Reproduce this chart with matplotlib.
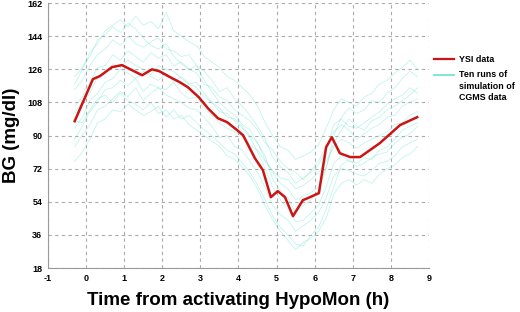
import matplotlib
matplotlib.use('Agg')
import matplotlib.pyplot as plt
from matplotlib.legend_handler import HandlerLine2D

plt.rcParams['font.family'] = ['Liberation Sans', 'DejaVu Sans']
plt.rcParams['axes.unicode_minus'] = False

# YSI reference measurements (h, mg/dl)
ysi_t = [-0.3, 0.18, 0.36, 0.68, 0.94, 1.2, 1.47, 1.73, 1.92, 2.2, 2.46, 2.67,
         2.96, 3.2, 3.46, 3.7, 3.96, 4.12, 4.43, 4.64, 4.85, 5.03, 5.22, 5.43,
         5.69, 5.82, 6.11, 6.3, 6.45, 6.66, 6.93, 7.19, 7.71, 8.24, 8.69]
ysi_bg = [97.8, 120.7, 122.3, 127.2, 128.3, 125.6, 122.8, 126, 125, 121.8, 119,
          116.3, 110.8, 104.8, 99.4, 97.3, 93, 90.2, 77.7, 71.2, 56.5, 59.8,
          56.5, 46.2, 54.9, 56, 58.7, 83.7, 89.1, 80.4, 78.3, 78.3, 85.9, 95.7, 100]

# simulated CGMS runs, sampled every 12 min
cgms_t = [-0.3, -0.1, 0.1, 0.3, 0.5, 0.7, 0.9, 1.1, 1.3, 1.5, 1.7, 1.9, 2.1,
          2.3, 2.5, 2.7, 2.9, 3.1, 3.3, 3.5, 3.7, 3.9, 4.1, 4.3, 4.5, 4.7,
          4.9, 5.1, 5.3, 5.5, 5.7, 5.9, 6.1, 6.3, 6.5, 6.7, 6.9, 7.1, 7.3,
          7.5, 7.7, 7.9, 8.1, 8.3, 8.5, 8.7]
run1 = [118, 126, 135, 140, 147, 150, 153, 149, 155, 150, 152, 148, 157, 147, 144, 141,
        139, 133, 130, 127, 122, 120, 116, 112, 106, 97, 90, 84, 82, 77, 79, 81, 85,
        94, 104, 110, 108, 106, 111, 113, 118, 120, 124, 127, 131, 126]
run2 = [115, 120, 128, 134, 137, 142, 139, 144, 140, 138, 141, 143, 137, 136, 133, 134,
        128, 125, 120, 114, 116, 110, 106, 101, 95, 88, 78, 73, 70, 64, 67, 70, 74,
        82, 96, 99, 95, 94, 97, 100, 103, 107, 110, 112, 116, 113]
run3 = [106, 111, 119, 127, 128, 134, 131, 136, 133, 130, 135, 132, 134, 128, 130, 126,
        124, 118, 116, 111, 109, 104, 101, 98, 93, 86, 82, 76, 72, 70, 66, 71, 76,
        84, 92, 96, 93, 88, 91, 94, 96, 100, 101, 106, 108, 110]
run4 = [102, 108, 113, 122, 124, 129, 127, 131, 128, 126, 123, 128, 126, 125, 121, 118,
        119, 113, 108, 105, 100, 99, 95, 90, 86, 77, 70, 64, 61, 55, 57, 59, 62,
        73, 86, 93, 99, 95, 93, 98, 100, 104, 106, 109, 112, 116]
run5 = [94, 100, 109, 113, 119, 121, 126, 124, 121, 125, 122, 120, 124, 119, 122, 118,
        116, 111, 108, 103, 102, 98, 94, 89, 81, 72, 62, 55, 50, 43, 44, 48, 52,
        62, 75, 79, 76, 75, 78, 77, 82, 84, 88, 93, 95, 97]
run6 = [88, 95, 103, 108, 115, 116, 120, 117, 121, 114, 118, 116, 115, 119, 113, 110,
        111, 105, 101, 97, 94, 92, 90, 85, 82, 76, 71, 67, 66, 61, 63, 66, 70,
        76, 84, 88, 86, 83, 86, 88, 90, 92, 96, 97, 101, 103]
run7 = [84, 90, 96, 104, 106, 110, 114, 111, 116, 109, 113, 116, 112, 110, 108, 105,
        104, 100, 95, 89, 90, 84, 82, 76, 70, 62, 52, 47, 44, 38, 41, 44, 48,
        56, 68, 72, 71, 69, 68, 71, 75, 76, 79, 84, 86, 88]
run8 = [76, 81, 88, 97, 99, 104, 103, 107, 104, 101, 103, 106, 100, 104, 99, 101,
        97, 93, 90, 86, 82, 80, 75, 70, 63, 55, 46, 40, 36, 31, 30, 36, 40,
        50, 62, 74, 77, 73, 75, 78, 80, 81, 86, 89, 91, 95]
run9 = [122, 127, 133, 142, 145, 149, 146, 151, 148, 143, 139, 137, 140, 133, 129, 126,
        128, 120, 114, 108, 104, 101, 96, 93, 86, 79, 66, 60, 56, 48, 52, 55, 60,
        72, 90, 100, 105, 102, 104, 109, 108, 113, 116, 121, 125, 122]
run10 = [98, 97, 104, 110, 112, 108, 113, 109, 107, 104, 108, 102, 104, 99, 101, 96,
         93, 90, 87, 84, 79, 77, 73, 68, 61, 52, 44, 38, 33, 28, 32, 34, 38,
         45, 58, 64, 66, 63, 66, 64, 69, 72, 74, 78, 80, 84]
runs = [run1, run2, run3, run4, run5, run6, run7, run8, run9, run10]

x_ticks = list(range(-1, 10))
y_ticks = [18, 36, 54, 72, 90, 108, 126, 144, 162]


# legend line drawn level with the first line of a multi-line label
class FirstLineHandler(HandlerLine2D):
    def __init__(self, shift, **kw):
        super().__init__(**kw)
        self.shift = shift

    def create_artists(self, legend, orig_handle, xdescent, ydescent, width,
                       height, fontsize, trans):
        arts = super().create_artists(legend, orig_handle, xdescent, ydescent,
                                      width, height, fontsize, trans)
        for a in arts:
            a.set_ydata([y + self.shift for y in a.get_ydata()])
        return arts


fig = plt.figure(figsize=(5.2, 3.12), dpi=100)
ax = fig.add_axes([0.0923, 0.141, 0.7327, 0.849])

cgms_lines = []
for r in runs:
    ln, = ax.plot(cgms_t, r, color='#5fe3cf', lw=0.6, alpha=0.38)
    cgms_lines.append(ln)
ysi_line, = ax.plot(ysi_t, ysi_bg, color='#cc1414', lw=1.8)

ax.set_xlim(-1, 9)
ax.set_ylim(18, 162)
ax.set_xticks(x_ticks)
ax.set_yticks(y_ticks)
ax.tick_params(length=0, labelsize=6.5, pad=4)
for lab in ax.get_xticklabels() + ax.get_yticklabels():
    lab.set_fontweight('bold')
ax.grid(True, color='#aaaaaa', ls=(0, (3, 3)), lw=0.8)
ax.spines['top'].set_visible(False)
ax.spines['right'].set_visible(False)
ax.spines['left'].set_color('#999999')
ax.spines['bottom'].set_color('#999999')

ax.set_xlabel('Time from activating HypoMon (h)', fontsize=13.5, fontweight='bold', labelpad=7)
ax.set_ylabel('BG (mg/dl)', fontsize=13.5, fontweight='bold', labelpad=5)

fs = 6.4
lsp = 1.35
leg = ax.legend([ysi_line, cgms_lines[0]],
                ['YSI data', 'Ten runs of\nsimulation of\nCGMS data'],
                handler_map={cgms_lines[0]: FirstLineHandler(lsp * fs)},
                loc='upper left', bbox_to_anchor=(1.014, 0.805),
                frameon=False, fontsize=fs, handlelength=2.2, handletextpad=0.6,
                labelspacing=0.75, borderaxespad=0, borderpad=0)
for t in leg.get_texts():
    t.set_fontweight('bold')
    t.set_linespacing(lsp)
leg_lines = leg.get_lines()
leg_lines[0].set_linewidth(1.6)
leg_lines[1].set_alpha(1)
leg_lines[1].set_color('#80e6d8')
leg_lines[1].set_linewidth(1.4)

fig.savefig('out.png', dpi=100)
